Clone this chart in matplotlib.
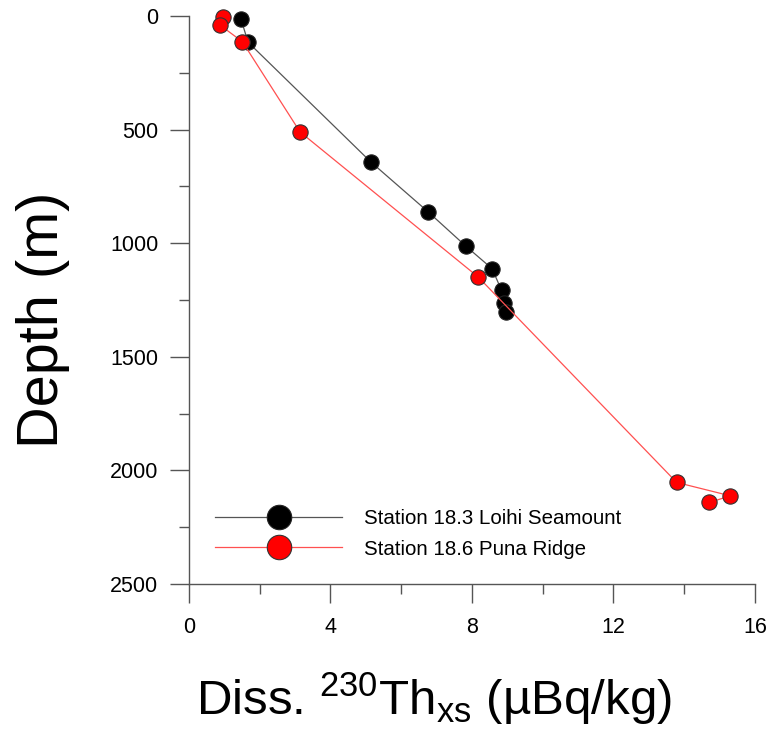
import matplotlib
matplotlib.use('Agg')
import matplotlib.pyplot as plt
from matplotlib.ticker import MultipleLocator

plt.rcParams['font.family'] = 'Liberation Sans'
plt.rcParams['mathtext.fontset'] = 'custom'
plt.rcParams['mathtext.rm'] = 'Liberation Sans'
plt.rcParams['mathtext.it'] = 'Liberation Sans'

# Station 18.3 Loihi Seamount
loihi_th = [1.47, 1.67, 5.14, 6.77, 7.83, 8.57, 8.84, 8.90, 8.96]
loihi_depth = [13, 115, 642, 863, 1013, 1112, 1208, 1262, 1304]

# Station 18.6 Puna Ridge
puna_th = [0.97, 0.88, 1.51, 3.14, 8.18, 13.79, 15.31, 14.71]
puna_depth = [6, 40, 113, 510, 1149, 2053, 2112, 2141]

fig = plt.figure(figsize=(7.72, 7.30), dpi=100)
ax = fig.add_axes([0.2448, 0.2, 0.733, 0.778])

ax.plot(loihi_th, loihi_depth, color='#555555', lw=0.9, marker='o', ms=11,
        mfc='black', mec='#222222', mew=0.8, label='Station 18.3 Loihi Seamount',
        clip_on=False, zorder=3)
ax.plot(puna_th, puna_depth, color='#ff5050', lw=0.9, marker='o', ms=11,
        mfc='#ff0000', mec='#333333', mew=0.8, label='Station 18.6 Puna Ridge',
        clip_on=False, zorder=4)

ax.set_xlim(0, 16)
ax.set_ylim(2500, 0)
ax.xaxis.set_major_locator(MultipleLocator(4))
ax.xaxis.set_minor_locator(MultipleLocator(2))
ax.yaxis.set_major_locator(MultipleLocator(500))
ax.yaxis.set_minor_locator(MultipleLocator(250))

for s in ['top', 'right']:
    ax.spines[s].set_visible(False)
for s in ['left', 'bottom']:
    ax.spines[s].set_color('#555555')
    ax.spines[s].set_linewidth(1.0)

ax.tick_params(which='major', length=14, width=1.0, color='#555555', labelsize=15.5)
ax.tick_params(axis='x', which='major', pad=10)
ax.tick_params(axis='y', which='major', pad=8)
ax.tick_params(which='minor', length=7, width=1.0, color='#555555')

# axis titles placed by hand (off-centre in the reference)
fig.text(433.5 / 772, 1 - 715 / 730, r'Diss. $\mathregular{^{230}Th_{xs}}$ (µBq/kg)',
         fontsize=35.5, ha='center', va='baseline')
fig.text(43.5 / 772, 1 - 320 / 730, 'Depth (m)', fontsize=41.5,
         rotation=90, ha='center', va='center')

leg = ax.legend(loc='lower left', bbox_to_anchor=(0.013, 0.012), frameon=False,
                fontsize=14.8, markerscale=1.6, handlelength=6.2, handletextpad=1.07,
                labelspacing=0.58)

fig.savefig('out.png', dpi=100)
